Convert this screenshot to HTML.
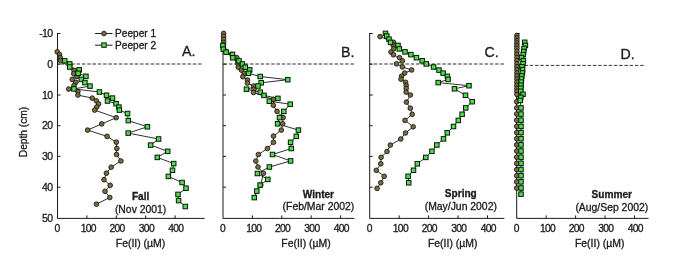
<!DOCTYPE html>
<html><head><meta charset="utf-8"><style>
html,body{margin:0;padding:0;background:#fff;}
body{width:685px;height:274px;overflow:hidden;}
svg{display:block;will-change:transform;}
text{font-family:"Liberation Sans",sans-serif;fill:#1a1a1a;stroke:#1a1a1a;stroke-width:0.3px;}
</style></head><body>
<svg width="685" height="274" viewBox="0 0 685 274">
<rect width="685" height="274" fill="#fff"/>

<line x1="201.6" y1="64.0" x2="57.5" y2="64.0" stroke="#767676" stroke-width="1.3" stroke-dasharray="3.5 1.78"/>
<line x1="353.9" y1="64.0" x2="223.0" y2="64.0" stroke="#767676" stroke-width="1.3" stroke-dasharray="3.5 1.78"/>
<line x1="503.9" y1="64.0" x2="369.7" y2="64.0" stroke="#767676" stroke-width="1.3" stroke-dasharray="3.5 1.78"/>
<line x1="643.7" y1="65.4" x2="516.7" y2="65.4" stroke="#222" stroke-width="0.9" stroke-dasharray="3.5 1.76"/>
<path d="M57.5,32.9 V218.4 H204.6" fill="none" stroke="#1a1a1a" stroke-width="1"/>
<path d="M57.5,33.5 h3 M57.5,64.2 h3 M57.5,95.0 h3 M57.5,125.7 h3 M57.5,156.4 h3 M57.5,187.2 h3 M86.9,218.4 v-3 M116.3,218.4 v-3 M145.7,218.4 v-3 M175.1,218.4 v-3 " stroke="#1a1a1a" stroke-width="1" fill="none"/>
<text x="57.1" y="231.8" font-size="10.3" letter-spacing="-0.7" text-anchor="middle">0</text>
<text x="88.2" y="231.8" font-size="10.3" letter-spacing="-0.7" text-anchor="middle">100</text>
<text x="117.0" y="231.8" font-size="10.3" letter-spacing="-0.7" text-anchor="middle">200</text>
<text x="146.4" y="231.8" font-size="10.3" letter-spacing="-0.7" text-anchor="middle">300</text>
<text x="175.8" y="231.8" font-size="10.3" letter-spacing="-0.7" text-anchor="middle">400</text>
<text x="140.5" y="246.5" font-size="10.45" text-anchor="middle">Fe(II) (µM)</text>
<path d="M223.0,32.9 V218.4 H354.5" fill="none" stroke="#1a1a1a" stroke-width="1"/>
<path d="M223.0,33.5 h3 M223.0,64.2 h3 M223.0,95.0 h3 M223.0,125.7 h3 M223.0,156.4 h3 M223.0,187.2 h3 M252.4,218.4 v-3 M281.8,218.4 v-3 M311.2,218.4 v-3 M340.6,218.4 v-3 " stroke="#1a1a1a" stroke-width="1" fill="none"/>
<text x="222.6" y="231.8" font-size="10.3" letter-spacing="-0.7" text-anchor="middle">0</text>
<text x="253.7" y="231.8" font-size="10.3" letter-spacing="-0.7" text-anchor="middle">100</text>
<text x="282.5" y="231.8" font-size="10.3" letter-spacing="-0.7" text-anchor="middle">200</text>
<text x="311.9" y="231.8" font-size="10.3" letter-spacing="-0.7" text-anchor="middle">300</text>
<text x="341.3" y="231.8" font-size="10.3" letter-spacing="-0.7" text-anchor="middle">400</text>
<text x="306.0" y="246.5" font-size="10.45" text-anchor="middle">Fe(II) (µM)</text>
<path d="M369.7,32.9 V218.4 H504.4" fill="none" stroke="#1a1a1a" stroke-width="1"/>
<path d="M369.7,33.5 h3 M369.7,64.2 h3 M369.7,95.0 h3 M369.7,125.7 h3 M369.7,156.4 h3 M369.7,187.2 h3 M399.15,218.4 v-3 M428.59999999999997,218.4 v-3 M458.04999999999995,218.4 v-3 M487.5,218.4 v-3 " stroke="#1a1a1a" stroke-width="1" fill="none"/>
<text x="369.3" y="231.8" font-size="10.3" letter-spacing="-0.7" text-anchor="middle">0</text>
<text x="400.4" y="231.8" font-size="10.3" letter-spacing="-0.7" text-anchor="middle">100</text>
<text x="429.3" y="231.8" font-size="10.3" letter-spacing="-0.7" text-anchor="middle">200</text>
<text x="458.7" y="231.8" font-size="10.3" letter-spacing="-0.7" text-anchor="middle">300</text>
<text x="488.2" y="231.8" font-size="10.3" letter-spacing="-0.7" text-anchor="middle">400</text>
<text x="452.7" y="246.5" font-size="10.45" text-anchor="middle">Fe(II) (µM)</text>
<path d="M516.7,32.9 V218.4 H648.6" fill="none" stroke="#1a1a1a" stroke-width="1"/>
<path d="M516.7,33.5 h3 M516.7,64.2 h3 M516.7,95.0 h3 M516.7,125.7 h3 M516.7,156.4 h3 M516.7,187.2 h3 M546.1500000000001,218.4 v-3 M575.6,218.4 v-3 M605.0500000000001,218.4 v-3 M634.5,218.4 v-3 " stroke="#1a1a1a" stroke-width="1" fill="none"/>
<text x="516.3" y="231.8" font-size="10.3" letter-spacing="-0.7" text-anchor="middle">0</text>
<text x="547.5" y="231.8" font-size="10.3" letter-spacing="-0.7" text-anchor="middle">100</text>
<text x="576.3" y="231.8" font-size="10.3" letter-spacing="-0.7" text-anchor="middle">200</text>
<text x="605.8" y="231.8" font-size="10.3" letter-spacing="-0.7" text-anchor="middle">300</text>
<text x="635.2" y="231.8" font-size="10.3" letter-spacing="-0.7" text-anchor="middle">400</text>
<text x="599.7" y="246.5" font-size="10.45" text-anchor="middle">Fe(II) (µM)</text>
<text x="52.4" y="37.2" font-size="10.5" letter-spacing="-0.7" text-anchor="end">-10</text>
<text x="52.4" y="67.9" font-size="10.5" letter-spacing="-0.7" text-anchor="end">0</text>
<text x="52.4" y="98.7" font-size="10.5" letter-spacing="-0.7" text-anchor="end">10</text>
<text x="52.4" y="129.4" font-size="10.5" letter-spacing="-0.7" text-anchor="end">20</text>
<text x="52.4" y="160.1" font-size="10.5" letter-spacing="-0.7" text-anchor="end">30</text>
<text x="52.4" y="190.9" font-size="10.5" letter-spacing="-0.7" text-anchor="end">40</text>
<text x="52.4" y="222.1" font-size="10.5" letter-spacing="-0.7" text-anchor="end">50</text>
<text transform="translate(27.4,132.0) rotate(-90)" font-size="10.2" text-anchor="middle">Depth (cm)</text>
<polyline points="57.2,51.8 59.6,54.6 60.2,57.6 60.5,60.7 74.0,70.4 73.7,73.7 77.0,76.5 72.2,79.4 75.9,82.3 74.0,85.5 68.7,89.1 77.9,91.5 77.9,95.1 92.2,98.1 96.3,100.8 98.6,103.9 96.8,107.0 94.7,110.1 116.2,117.7 101.7,123.9 87.6,130.1 107.1,136.4 116.3,142.2 116.8,148.4 116.5,154.5 120.9,161.0 111.2,167.2 106.4,173.2 104.0,179.7 110.2,185.3 105.0,191.3 109.8,197.5 96.4,204.2" fill="none" stroke="#1a1a1a" stroke-width="0.9"/>
<polyline points="64.7,60.8 69.7,63.9 69.7,67.0 79.2,69.8 78.1,73.3 85.9,76.3 81.3,79.4 84.9,82.6 90.0,86.1 73.9,88.9 99.4,92.0 106.5,95.2 112.5,98.1 107.5,101.0 116.1,103.7 118.9,107.1 119.4,110.1 127.5,113.5 128.3,120.6 147.4,126.8 128.2,133.1 158.6,139.0 150.6,145.1 167.7,151.3 157.3,157.4 173.7,163.6 172.5,170.3 168.4,176.4 182.1,182.5 186.0,188.2 178.0,194.4 178.6,200.6 185.3,206.5" fill="none" stroke="#1a1a1a" stroke-width="0.9"/>
<g fill="#776d3e" stroke="#0d0d0d" stroke-width="0.8"><circle cx="57.2" cy="51.8" r="2.35"/><circle cx="59.6" cy="54.6" r="2.35"/><circle cx="60.2" cy="57.6" r="2.35"/><circle cx="60.5" cy="60.7" r="2.35"/><circle cx="74.0" cy="70.4" r="2.35"/><circle cx="73.7" cy="73.7" r="2.35"/><circle cx="77.0" cy="76.5" r="2.35"/><circle cx="72.2" cy="79.4" r="2.35"/><circle cx="75.9" cy="82.3" r="2.35"/><circle cx="74.0" cy="85.5" r="2.35"/><circle cx="68.7" cy="89.1" r="2.35"/><circle cx="77.9" cy="91.5" r="2.35"/><circle cx="77.9" cy="95.1" r="2.35"/><circle cx="92.2" cy="98.1" r="2.35"/><circle cx="96.3" cy="100.8" r="2.35"/><circle cx="98.6" cy="103.9" r="2.35"/><circle cx="96.8" cy="107.0" r="2.35"/><circle cx="94.7" cy="110.1" r="2.35"/><circle cx="116.2" cy="117.7" r="2.35"/><circle cx="101.7" cy="123.9" r="2.35"/><circle cx="87.6" cy="130.1" r="2.35"/><circle cx="107.1" cy="136.4" r="2.35"/><circle cx="116.3" cy="142.2" r="2.35"/><circle cx="116.8" cy="148.4" r="2.35"/><circle cx="116.5" cy="154.5" r="2.35"/><circle cx="120.9" cy="161.0" r="2.35"/><circle cx="111.2" cy="167.2" r="2.35"/><circle cx="106.4" cy="173.2" r="2.35"/><circle cx="104.0" cy="179.7" r="2.35"/><circle cx="110.2" cy="185.3" r="2.35"/><circle cx="105.0" cy="191.3" r="2.35"/><circle cx="109.8" cy="197.5" r="2.35"/><circle cx="96.4" cy="204.2" r="2.35"/></g>
<g fill="#4fdc4f" stroke="#061806" stroke-width="1.0"><rect x="62.45" y="58.55" width="4.5" height="4.5"/><rect x="67.45" y="61.65" width="4.5" height="4.5"/><rect x="67.45" y="64.75" width="4.5" height="4.5"/><rect x="76.95" y="67.55" width="4.5" height="4.5"/><rect x="75.85" y="71.05" width="4.5" height="4.5"/><rect x="83.65" y="74.05" width="4.5" height="4.5"/><rect x="79.05" y="77.15" width="4.5" height="4.5"/><rect x="82.65" y="80.35" width="4.5" height="4.5"/><rect x="87.75" y="83.85" width="4.5" height="4.5"/><rect x="71.65" y="86.65" width="4.5" height="4.5"/><rect x="97.15" y="89.75" width="4.5" height="4.5"/><rect x="104.25" y="92.95" width="4.5" height="4.5"/><rect x="110.25" y="95.85" width="4.5" height="4.5"/><rect x="105.25" y="98.75" width="4.5" height="4.5"/><rect x="113.85" y="101.45" width="4.5" height="4.5"/><rect x="116.65" y="104.85" width="4.5" height="4.5"/><rect x="117.15" y="107.85" width="4.5" height="4.5"/><rect x="125.25" y="111.25" width="4.5" height="4.5"/><rect x="126.05" y="118.35" width="4.5" height="4.5"/><rect x="145.15" y="124.55" width="4.5" height="4.5"/><rect x="125.95" y="130.85" width="4.5" height="4.5"/><rect x="156.35" y="136.75" width="4.5" height="4.5"/><rect x="148.35" y="142.85" width="4.5" height="4.5"/><rect x="165.45" y="149.05" width="4.5" height="4.5"/><rect x="155.05" y="155.15" width="4.5" height="4.5"/><rect x="171.45" y="161.35" width="4.5" height="4.5"/><rect x="170.25" y="168.05" width="4.5" height="4.5"/><rect x="166.15" y="174.15" width="4.5" height="4.5"/><rect x="179.85" y="180.25" width="4.5" height="4.5"/><rect x="183.75" y="185.95" width="4.5" height="4.5"/><rect x="175.75" y="192.15" width="4.5" height="4.5"/><rect x="176.35" y="198.35" width="4.5" height="4.5"/><rect x="183.05" y="204.25" width="4.5" height="4.5"/></g>
<polyline points="223.6,33.4 223.6,36.4 223.6,39.4 223.6,42.4 223.5,45.0 223.5,48.2 225.8,51.4 232.0,54.5 236.8,57.6 237.5,60.7 238.0,63.8 238.3,67.2 241.5,70.2 244.3,73.3 242.9,76.7 247.5,80.0 247.4,83.1 253.5,86.1 254.0,89.2 253.5,92.5 273.4,99.4 273.4,105.3 277.0,111.4 283.1,117.6 282.7,123.8 281.3,130.1 273.5,136.1 273.5,142.3 267.4,148.5 258.4,154.5 255.8,161.1 258.0,167.0 263.4,173.3 260.8,185.0" fill="none" stroke="#1a1a1a" stroke-width="0.9"/>
<polyline points="222.9,45.5 223.3,49.2 226.1,52.2 232.5,54.4 232.8,57.8 239.0,60.9 242.4,64.0 245.3,67.2 249.7,69.9 248.5,73.3 260.2,76.5 287.8,79.7 261.2,82.8 258.0,86.0 246.5,89.2 260.3,92.2 264.0,95.4 277.9,98.4 269.3,101.2 290.2,104.2 283.8,111.4 279.5,117.6 277.6,123.8 298.4,130.1 296.3,136.3 290.6,142.3 291.3,148.5 272.5,154.5 290.6,160.9 269.4,167.0 257.4,173.5 267.8,179.4 260.1,185.1 256.8,191.1 254.3,197.6" fill="none" stroke="#1a1a1a" stroke-width="0.9"/>
<g fill="#776d3e" stroke="#0d0d0d" stroke-width="0.8"><circle cx="223.6" cy="33.4" r="2.35"/><circle cx="223.6" cy="36.4" r="2.35"/><circle cx="223.6" cy="39.4" r="2.35"/><circle cx="223.6" cy="42.4" r="2.35"/><circle cx="223.5" cy="45.0" r="2.35"/><circle cx="223.5" cy="48.2" r="2.35"/><circle cx="225.8" cy="51.4" r="2.35"/><circle cx="232.0" cy="54.5" r="2.35"/><circle cx="236.8" cy="57.6" r="2.35"/><circle cx="237.5" cy="60.7" r="2.35"/><circle cx="238.0" cy="63.8" r="2.35"/><circle cx="238.3" cy="67.2" r="2.35"/><circle cx="241.5" cy="70.2" r="2.35"/><circle cx="244.3" cy="73.3" r="2.35"/><circle cx="242.9" cy="76.7" r="2.35"/><circle cx="247.5" cy="80.0" r="2.35"/><circle cx="247.4" cy="83.1" r="2.35"/><circle cx="253.5" cy="86.1" r="2.35"/><circle cx="254.0" cy="89.2" r="2.35"/><circle cx="253.5" cy="92.5" r="2.35"/><circle cx="273.4" cy="99.4" r="2.35"/><circle cx="273.4" cy="105.3" r="2.35"/><circle cx="277.0" cy="111.4" r="2.35"/><circle cx="283.1" cy="117.6" r="2.35"/><circle cx="282.7" cy="123.8" r="2.35"/><circle cx="281.3" cy="130.1" r="2.35"/><circle cx="273.5" cy="136.1" r="2.35"/><circle cx="273.5" cy="142.3" r="2.35"/><circle cx="267.4" cy="148.5" r="2.35"/><circle cx="258.4" cy="154.5" r="2.35"/><circle cx="255.8" cy="161.1" r="2.35"/><circle cx="258.0" cy="167.0" r="2.35"/><circle cx="263.4" cy="173.3" r="2.35"/><circle cx="260.8" cy="185.0" r="2.35"/></g>
<g fill="#4fdc4f" stroke="#061806" stroke-width="1.0"><rect x="220.65" y="43.25" width="4.5" height="4.5"/><rect x="221.05" y="46.95" width="4.5" height="4.5"/><rect x="223.85" y="49.95" width="4.5" height="4.5"/><rect x="230.25" y="52.15" width="4.5" height="4.5"/><rect x="230.55" y="55.55" width="4.5" height="4.5"/><rect x="236.75" y="58.65" width="4.5" height="4.5"/><rect x="240.15" y="61.75" width="4.5" height="4.5"/><rect x="243.05" y="64.95" width="4.5" height="4.5"/><rect x="247.45" y="67.65" width="4.5" height="4.5"/><rect x="246.25" y="71.05" width="4.5" height="4.5"/><rect x="257.95" y="74.25" width="4.5" height="4.5"/><rect x="285.55" y="77.45" width="4.5" height="4.5"/><rect x="258.95" y="80.55" width="4.5" height="4.5"/><rect x="255.75" y="83.75" width="4.5" height="4.5"/><rect x="244.25" y="86.95" width="4.5" height="4.5"/><rect x="258.05" y="89.95" width="4.5" height="4.5"/><rect x="261.75" y="93.15" width="4.5" height="4.5"/><rect x="275.65" y="96.15" width="4.5" height="4.5"/><rect x="267.05" y="98.95" width="4.5" height="4.5"/><rect x="287.95" y="101.95" width="4.5" height="4.5"/><rect x="281.55" y="109.15" width="4.5" height="4.5"/><rect x="277.25" y="115.35" width="4.5" height="4.5"/><rect x="275.35" y="121.55" width="4.5" height="4.5"/><rect x="296.15" y="127.85" width="4.5" height="4.5"/><rect x="294.05" y="134.05" width="4.5" height="4.5"/><rect x="288.35" y="140.05" width="4.5" height="4.5"/><rect x="289.05" y="146.25" width="4.5" height="4.5"/><rect x="270.25" y="152.25" width="4.5" height="4.5"/><rect x="288.35" y="158.65" width="4.5" height="4.5"/><rect x="267.15" y="164.75" width="4.5" height="4.5"/><rect x="255.15" y="171.25" width="4.5" height="4.5"/><rect x="265.55" y="177.15" width="4.5" height="4.5"/><rect x="257.85" y="182.85" width="4.5" height="4.5"/><rect x="254.55" y="188.85" width="4.5" height="4.5"/><rect x="252.05" y="195.35" width="4.5" height="4.5"/></g>
<polyline points="380.1,36.6 393.5,42.3 393.3,45.3 393.7,48.8 391.0,52.0 393.4,54.8 399.5,57.7 402.4,60.8 396.5,63.8 402.4,66.9 411.6,70.0 404.7,73.1 401.6,76.2 401.0,79.2 405.6,82.3 406.2,85.4 406.2,88.4 406.1,92.1 410.4,95.0 406.4,102.1 410.3,108.2 412.2,114.3 405.0,120.4 413.2,126.8 405.5,133.0 400.8,139.0 390.3,145.1 387.0,151.5 381.1,157.3 380.8,163.8 376.3,170.3 384.2,176.3 380.8,182.8 377.1,188.4" fill="none" stroke="#1a1a1a" stroke-width="0.9"/>
<polyline points="385.5,33.4 386.8,36.1 389.0,39.2 390.5,42.4 398.0,45.4 399.3,48.9 405.0,51.9 410.9,54.6 416.4,57.7 422.2,60.8 426.3,63.9 433.6,67.0 439.0,70.1 443.1,73.1 447.4,76.3 448.1,79.4 438.2,82.6 469.0,85.7 454.5,88.8 465.5,95.3 472.2,101.7 465.7,107.9 462.1,114.3 458.3,120.4 453.5,126.5 447.3,132.8 443.5,138.9 436.8,145.0 431.9,151.3 425.8,157.4 417.3,163.8 413.5,170.3 408.1,176.3 408.7,182.8" fill="none" stroke="#1a1a1a" stroke-width="0.9"/>
<g fill="#776d3e" stroke="#0d0d0d" stroke-width="0.8"><circle cx="380.1" cy="36.6" r="2.35"/><circle cx="393.5" cy="42.3" r="2.35"/><circle cx="393.3" cy="45.3" r="2.35"/><circle cx="393.7" cy="48.8" r="2.35"/><circle cx="391.0" cy="52.0" r="2.35"/><circle cx="393.4" cy="54.8" r="2.35"/><circle cx="399.5" cy="57.7" r="2.35"/><circle cx="402.4" cy="60.8" r="2.35"/><circle cx="396.5" cy="63.8" r="2.35"/><circle cx="402.4" cy="66.9" r="2.35"/><circle cx="411.6" cy="70.0" r="2.35"/><circle cx="404.7" cy="73.1" r="2.35"/><circle cx="401.6" cy="76.2" r="2.35"/><circle cx="401.0" cy="79.2" r="2.35"/><circle cx="405.6" cy="82.3" r="2.35"/><circle cx="406.2" cy="85.4" r="2.35"/><circle cx="406.2" cy="88.4" r="2.35"/><circle cx="406.1" cy="92.1" r="2.35"/><circle cx="410.4" cy="95.0" r="2.35"/><circle cx="406.4" cy="102.1" r="2.35"/><circle cx="410.3" cy="108.2" r="2.35"/><circle cx="412.2" cy="114.3" r="2.35"/><circle cx="405.0" cy="120.4" r="2.35"/><circle cx="413.2" cy="126.8" r="2.35"/><circle cx="405.5" cy="133.0" r="2.35"/><circle cx="400.8" cy="139.0" r="2.35"/><circle cx="390.3" cy="145.1" r="2.35"/><circle cx="387.0" cy="151.5" r="2.35"/><circle cx="381.1" cy="157.3" r="2.35"/><circle cx="380.8" cy="163.8" r="2.35"/><circle cx="376.3" cy="170.3" r="2.35"/><circle cx="384.2" cy="176.3" r="2.35"/><circle cx="380.8" cy="182.8" r="2.35"/><circle cx="377.1" cy="188.4" r="2.35"/></g>
<g fill="#4fdc4f" stroke="#061806" stroke-width="1.0"><rect x="383.25" y="31.15" width="4.5" height="4.5"/><rect x="384.55" y="33.85" width="4.5" height="4.5"/><rect x="386.75" y="36.95" width="4.5" height="4.5"/><rect x="388.25" y="40.15" width="4.5" height="4.5"/><rect x="395.75" y="43.15" width="4.5" height="4.5"/><rect x="397.05" y="46.65" width="4.5" height="4.5"/><rect x="402.75" y="49.65" width="4.5" height="4.5"/><rect x="408.65" y="52.35" width="4.5" height="4.5"/><rect x="414.15" y="55.45" width="4.5" height="4.5"/><rect x="419.95" y="58.55" width="4.5" height="4.5"/><rect x="424.05" y="61.65" width="4.5" height="4.5"/><rect x="431.35" y="64.75" width="4.5" height="4.5"/><rect x="436.75" y="67.85" width="4.5" height="4.5"/><rect x="440.85" y="70.85" width="4.5" height="4.5"/><rect x="445.15" y="74.05" width="4.5" height="4.5"/><rect x="445.85" y="77.15" width="4.5" height="4.5"/><rect x="435.95" y="80.35" width="4.5" height="4.5"/><rect x="466.75" y="83.45" width="4.5" height="4.5"/><rect x="452.25" y="86.55" width="4.5" height="4.5"/><rect x="463.25" y="93.05" width="4.5" height="4.5"/><rect x="469.95" y="99.45" width="4.5" height="4.5"/><rect x="463.45" y="105.65" width="4.5" height="4.5"/><rect x="459.85" y="112.05" width="4.5" height="4.5"/><rect x="456.05" y="118.15" width="4.5" height="4.5"/><rect x="451.25" y="124.25" width="4.5" height="4.5"/><rect x="445.05" y="130.55" width="4.5" height="4.5"/><rect x="441.25" y="136.65" width="4.5" height="4.5"/><rect x="434.55" y="142.75" width="4.5" height="4.5"/><rect x="429.65" y="149.05" width="4.5" height="4.5"/><rect x="423.55" y="155.15" width="4.5" height="4.5"/><rect x="415.05" y="161.55" width="4.5" height="4.5"/><rect x="411.25" y="168.05" width="4.5" height="4.5"/><rect x="405.85" y="174.05" width="4.5" height="4.5"/><rect x="406.45" y="180.55" width="4.5" height="4.5"/></g>
<polyline points="516.9,35.5 516.9,38.1 516.9,40.6 516.9,43.2 516.9,45.8 516.9,48.3 516.9,51.4 516.9,54.4 516.9,57.5 516.9,60.6 516.9,63.7 516.9,66.8 516.9,69.8 516.9,72.9 516.9,76.0 516.9,79.0 516.9,82.1 516.9,85.2 516.9,88.3 516.9,91.3 516.9,94.4 516.7,101.7 516.7,107.9 516.7,114.0 516.7,120.2 516.7,126.4 516.7,132.6 516.7,138.7 516.7,144.9 516.7,151.1 516.7,157.2 516.7,163.4 516.7,169.6 516.7,175.7 516.7,181.9 516.7,188.1" fill="none" stroke="#1a1a1a" stroke-width="0.9"/>
<polyline points="524.7,42.3 525.4,45.4 524.0,48.4 523.7,51.5 523.2,54.5 521.5,57.6 523.4,60.7 523.0,63.7 522.0,66.8 522.6,69.8 522.4,72.9 521.8,76.0 521.5,79.0 521.2,82.1 521.0,85.1 520.8,88.2 520.8,91.3 523.0,94.3 520.8,97.4 520.2,100.4 521.0,107.9 521.0,114.1 521.0,120.2 521.0,126.4 521.0,132.5 521.0,138.7 521.0,144.9 521.0,151.0 521.0,157.2 521.0,163.3 521.0,169.5 521.0,175.7 521.0,181.8 521.0,188.0 521.0,194.1" fill="none" stroke="#1a1a1a" stroke-width="0.9"/>
<g fill="#776d3e" stroke="#0d0d0d" stroke-width="0.8"><circle cx="516.9" cy="35.5" r="2.35"/><circle cx="516.9" cy="38.1" r="2.35"/><circle cx="516.9" cy="40.6" r="2.35"/><circle cx="516.9" cy="43.2" r="2.35"/><circle cx="516.9" cy="45.8" r="2.35"/><circle cx="516.9" cy="48.3" r="2.35"/><circle cx="516.9" cy="51.4" r="2.35"/><circle cx="516.9" cy="54.4" r="2.35"/><circle cx="516.9" cy="57.5" r="2.35"/><circle cx="516.9" cy="60.6" r="2.35"/><circle cx="516.9" cy="63.7" r="2.35"/><circle cx="516.9" cy="66.8" r="2.35"/><circle cx="516.9" cy="69.8" r="2.35"/><circle cx="516.9" cy="72.9" r="2.35"/><circle cx="516.9" cy="76.0" r="2.35"/><circle cx="516.9" cy="79.0" r="2.35"/><circle cx="516.9" cy="82.1" r="2.35"/><circle cx="516.9" cy="85.2" r="2.35"/><circle cx="516.9" cy="88.3" r="2.35"/><circle cx="516.9" cy="91.3" r="2.35"/><circle cx="516.9" cy="94.4" r="2.35"/><circle cx="516.7" cy="101.7" r="2.35"/><circle cx="516.7" cy="107.9" r="2.35"/><circle cx="516.7" cy="114.0" r="2.35"/><circle cx="516.7" cy="120.2" r="2.35"/><circle cx="516.7" cy="126.4" r="2.35"/><circle cx="516.7" cy="132.6" r="2.35"/><circle cx="516.7" cy="138.7" r="2.35"/><circle cx="516.7" cy="144.9" r="2.35"/><circle cx="516.7" cy="151.1" r="2.35"/><circle cx="516.7" cy="157.2" r="2.35"/><circle cx="516.7" cy="163.4" r="2.35"/><circle cx="516.7" cy="169.6" r="2.35"/><circle cx="516.7" cy="175.7" r="2.35"/><circle cx="516.7" cy="181.9" r="2.35"/><circle cx="516.7" cy="188.1" r="2.35"/></g>
<g fill="#4fdc4f" stroke="#061806" stroke-width="1.0"><rect x="522.45" y="40.05" width="4.5" height="4.5"/><rect x="523.15" y="43.11" width="4.5" height="4.5"/><rect x="521.75" y="46.17" width="4.5" height="4.5"/><rect x="521.45" y="49.23" width="4.5" height="4.5"/><rect x="520.95" y="52.29" width="4.5" height="4.5"/><rect x="519.25" y="55.35" width="4.5" height="4.5"/><rect x="521.15" y="58.41" width="4.5" height="4.5"/><rect x="520.75" y="61.47" width="4.5" height="4.5"/><rect x="519.75" y="64.53" width="4.5" height="4.5"/><rect x="520.35" y="67.59" width="4.5" height="4.5"/><rect x="520.15" y="70.65" width="4.5" height="4.5"/><rect x="519.55" y="73.71" width="4.5" height="4.5"/><rect x="519.25" y="76.77" width="4.5" height="4.5"/><rect x="518.95" y="79.83" width="4.5" height="4.5"/><rect x="518.75" y="82.89" width="4.5" height="4.5"/><rect x="518.55" y="85.95" width="4.5" height="4.5"/><rect x="518.55" y="89.01" width="4.5" height="4.5"/><rect x="520.75" y="92.07" width="4.5" height="4.5"/><rect x="518.55" y="95.13" width="4.5" height="4.5"/><rect x="517.95" y="98.19" width="4.5" height="4.5"/><rect x="518.75" y="105.65" width="4.5" height="4.5"/><rect x="518.75" y="111.81" width="4.5" height="4.5"/><rect x="518.75" y="117.97" width="4.5" height="4.5"/><rect x="518.75" y="124.13" width="4.5" height="4.5"/><rect x="518.75" y="130.29" width="4.5" height="4.5"/><rect x="518.75" y="136.45" width="4.5" height="4.5"/><rect x="518.75" y="142.61" width="4.5" height="4.5"/><rect x="518.75" y="148.77" width="4.5" height="4.5"/><rect x="518.75" y="154.93" width="4.5" height="4.5"/><rect x="518.75" y="161.09" width="4.5" height="4.5"/><rect x="518.75" y="167.25" width="4.5" height="4.5"/><rect x="518.75" y="173.41" width="4.5" height="4.5"/><rect x="518.75" y="179.57" width="4.5" height="4.5"/><rect x="518.75" y="185.73" width="4.5" height="4.5"/><rect x="518.75" y="191.89" width="4.5" height="4.5"/></g>
<line x1="95.1" y1="33.5" x2="112.5" y2="33.5" stroke="#1a1a1a" stroke-width="1"/>
<circle cx="104.0" cy="33.5" r="2.35" fill="#776d3e" stroke="#0d0d0d" stroke-width="0.8"/>
<line x1="95.1" y1="45.2" x2="112.5" y2="45.2" stroke="#1a1a1a" stroke-width="1"/>
<rect x="101.75" y="42.85" width="4.5" height="4.5" fill="#4fdc4f" stroke="#0d0d0d" stroke-width="0.9"/>
<text x="115.1" y="37.2" font-size="10.1">Peeper 1</text>
<text x="115.1" y="48.6" font-size="10.1">Peeper 2</text>
<text x="182.0" y="55.7" font-size="14.2">A.</text>
<text x="341.0" y="57.1" font-size="14.2">B.</text>
<text x="484.6" y="56.8" font-size="14.2">C.</text>
<text x="620.5" y="58.8" font-size="14.2">D.</text>
<text x="140.6" y="200.3" font-size="10.1" font-weight="bold" stroke-width="0.1" text-anchor="middle">Fall</text>
<text x="140.6" y="213.0" font-size="10.4" text-anchor="middle">(Nov 2001)</text>
<text x="318.4" y="198.0" font-size="10.1" font-weight="bold" stroke-width="0.1" text-anchor="middle">Winter</text>
<text x="318.4" y="210.4" font-size="10.4" text-anchor="middle">(Feb/Mar 2002)</text>
<text x="460.8" y="197.4" font-size="10.1" font-weight="bold" stroke-width="0.1" text-anchor="middle">Spring</text>
<text x="460.8" y="209.8" font-size="10.4" text-anchor="middle">(May/Jun 2002)</text>
<text x="611.8" y="198.3" font-size="10.1" font-weight="bold" stroke-width="0.1" text-anchor="middle">Summer</text>
<text x="611.8" y="211.0" font-size="10.4" text-anchor="middle">(Aug/Sep 2002)</text>
</svg></body></html>
